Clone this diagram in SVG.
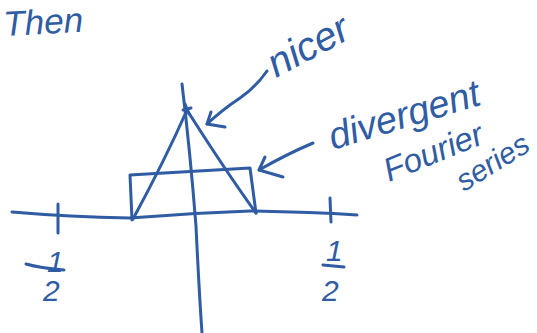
<svg xmlns="http://www.w3.org/2000/svg" width="537" height="333" viewBox="0 0 537 333">
<style>
.ink{fill:none;stroke:#2f5ca3;stroke-width:3;stroke-linecap:round;stroke-linejoin:round}
.hand{fill:#2f5ca3;font-family:"Liberation Sans","DejaVu Sans",sans-serif;font-style:italic}
</style>
<rect width="537" height="333" fill="#fff"/>
<g id="axes">
<path class="ink" d="M12,212 Q70,217 130,218 Q190,213 250,211 Q310,212 357,215"/>
<path class="ink" d="M58,204 L58,233"/>
<path class="ink" d="M330,198 L331,222"/>
<path class="ink" d="M182,84 Q190,150 196,226 Q199,290 202,333"/>
</g>
<g id="triangle">
<path class="ink" d="M133,219 Q165,160 187,110 Q225,170 256,213"/>
<path class="ink" d="M185,104 L189,114 M183,110 L191,108"/>
</g>
<g id="rect">
<path class="ink" d="M132,220 L130,175 L250,168 L256,213"/>
</g>
<g id="connectors">
<path class="ink" d="M267,71 Q255,88 240,98 Q222,110 207,124"/>
<path class="ink" d="M211,112 L207,124 L225,127"/>
<path class="ink" d="M313,143 Q285,155 259,170"/>
<path class="ink" d="M265,157 L259,170 L283,177"/>
</g>
<g id="labels">
<text class="hand" x="4" y="36" font-size="35" transform="rotate(-3 4 36)">Then</text>
<text class="hand" x="276" y="78" font-size="40" transform="rotate(-28 276 78)">nicer</text>
<text class="hand" x="333" y="150" font-size="38" transform="rotate(-17 333 150)">divergent</text>
<text class="hand" x="389" y="182" font-size="33" transform="rotate(-22 389 182)">Fourier</text>
<text class="hand" x="464" y="192" font-size="30" transform="rotate(-32 464 192)">series</text>
<text class="hand" x="47" y="272" font-size="30">1</text>
<path class="ink" d="M26,264 Q40,268 64,270"/>
<text class="hand" x="43" y="301" font-size="30">2</text>
<text class="hand" x="326" y="261" font-size="30">1</text>
<path class="ink" d="M323,265 L344,267"/>
<text class="hand" x="322" y="301" font-size="30">2</text>
</g>
</svg>
